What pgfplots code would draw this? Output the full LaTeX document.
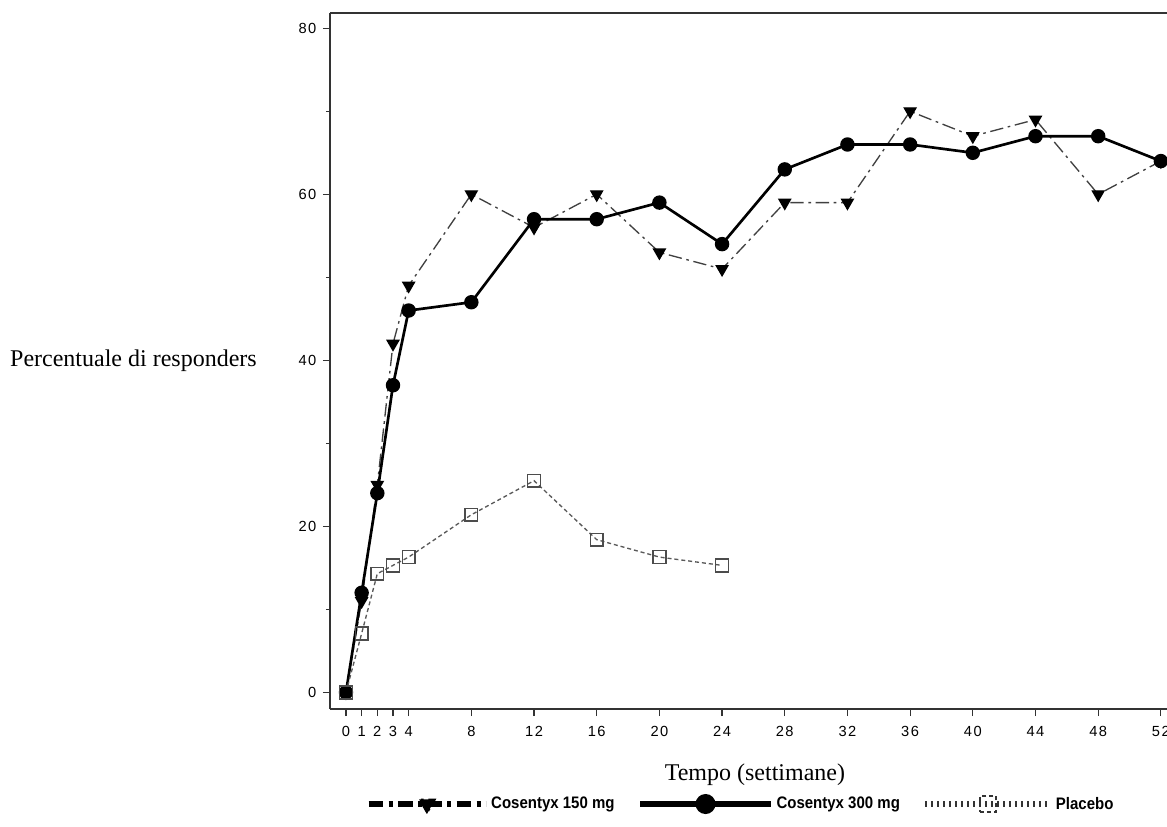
\documentclass[border=0pt]{standalone}
\usepackage{fontspec}
\setmainfont{Liberation Serif}
\newfontfamily\ticksans[LetterSpace=10]{Liberation Sans}
\newfontfamily\legsans[FakeStretch=0.9]{Liberation Sans}
\usepackage{pgfplots}
\pgfplotsset{compat=1.18}

\begin{document}
\begin{tikzpicture}
\begin{axis}[
    name=ax,
    scale only axis,
    width=634.9pt, height=522pt,
    xmin=-1.02, xmax=53,
    ymin=-2, ymax=81.84,
    axis x line*=box, axis y line*=left,
    xtick pos=bottom, ytick pos=left,
    tick align=outside,
    major tick length=5.25pt, minor tick length=3pt,
    xtick={0,1,2,3,4,8,12,16,20,24,28,32,36,40,44,48,52},
    ytick={0,20,40,60,80},
    minor ytick={10,30,50,70},
    every tick/.style={black!80, line width=0.9pt},
    axis line style={black!80, line width=1pt},
    ticklabel style={font=\ticksans\fontsize{11}{13}\selectfont},
    xticklabel style={yshift=-4pt},
    yticklabel style={xshift=-1.5pt},
    /pgf/number format/assume math mode=true,
    xlabel={Tempo (settimane)},
    ylabel={Percentuale di responders},
    every axis x label/.style={at={(axis description cs:0.502,-0.095)}, anchor=center, font=\fontsize{18}{20}\selectfont},
    every axis y label/.style={at={(axis description cs:-0.0862,0.5)}, anchor=east, inner sep=0pt, font=\fontsize{18}{20}\selectfont},
    legend columns=3,
    legend style={at={(axis description cs:0.4855,-0.1365)}, anchor=center, draw=none,
        font=\legsans\bfseries\fontsize{12.5}{14}\selectfont,
        /tikz/every even column/.append style={column sep=15pt}},
]
% Cosentyx 150 mg
\addplot[black!75, line width=1pt, dash pattern=on 10pt off 3.5pt on 2pt off 3.5pt,
    mark=triangle*, mark size=5pt, mark options={solid, fill=black, draw=black, rotate=180},
    legend image code/.code={
        \draw[black, line width=4pt, dash pattern=on 11pt off 4pt on 3pt off 4pt] (0pt,0pt) -- (88pt,0pt);
        \path plot[mark=triangle*, mark size=7pt, mark options={fill=black, draw=black, rotate=180}] coordinates {(44pt,0pt)};
    }]
coordinates {
    (0,0) (1,11) (2,25) (3,42) (4,49) (8,60) (12,56) (16,60) (20,53) (24,51)
    (28,59) (32,59) (36,70) (40,67) (44,69) (48,60) (52,64)
};
\addlegendentry{Cosentyx 150 mg}
% Cosentyx 300 mg
\addplot[black, line width=2pt, solid,
    mark=*, mark size=4.4pt, mark options={fill=black, draw=black},
    legend image code/.code={
        \draw[black, line width=4.5pt] (0pt,0pt) -- (98pt,0pt);
        \path plot[mark=*, mark size=6.5pt, mark options={fill=black, draw=black}] coordinates {(49pt,0pt)};
    }]
coordinates {
    (0,0) (1,12) (2,24) (3,37) (4,46) (8,47) (12,57) (16,57) (20,59) (24,54)
    (28,63) (32,66) (36,66) (40,65) (44,67) (48,67) (52,64)
};
\addlegendentry{Cosentyx 300 mg}
% Placebo
\addplot[black!65, line width=1pt, dash pattern=on 3pt off 2.2pt,
    mark=square, mark size=4.8pt, mark options={solid, draw=black!70, line width=1.1pt},
    legend image code/.code={
        \draw[black!80, line width=4pt, dash pattern=on 1.5pt off 3pt] (0pt,0pt) -- (94pt,0pt);
        \path plot[mark=square, mark size=6pt, mark options={draw=black!80, fill=white, line width=1.5pt}] coordinates {(47pt,0pt)};
    }]
coordinates {
    (0,0) (1,7.1) (2,14.3) (3,15.3) (4,16.3) (8,21.4) (12,25.5) (16,18.4) (20,16.3) (24,15.3)
};
\addlegendentry{Placebo}
\end{axis}
\pgfresetboundingbox
\path[use as bounding box] ([xshift=-247.5pt,yshift=-87.75pt]ax.south west) rectangle ++(875.25pt,619.5pt);
\end{tikzpicture}
\end{document}
